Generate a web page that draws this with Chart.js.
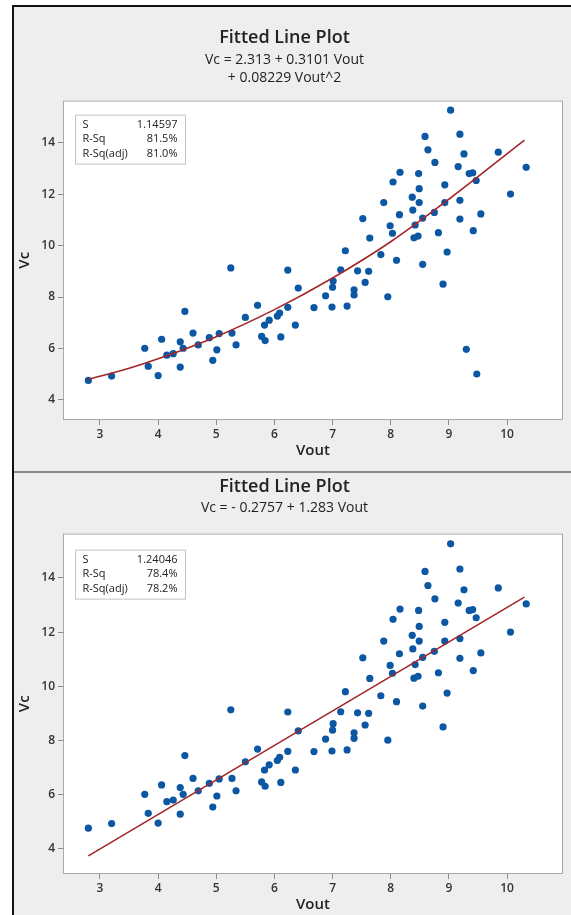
<!DOCTYPE html>
<html>
<head>
<meta charset="utf-8">
<script src="https://cdn.jsdelivr.net/npm/chart.js@4.4.0/dist/chart.umd.min.js"></script>
<style>
  html, body { margin: 0; padding: 0; background: #fff; overflow: hidden; }
  #frame { position: absolute; left: 12px; top: 5px; width: 580px; height: 930px;
           border-left: 2px solid #111; border-top: 2px solid #111; background: #eeeeee; }
  #divider { position: absolute; left: 14px; top: 471px; width: 557px; height: 2px; background: #8a8a8a; }
  canvas { position: absolute; left: 0; }
  #quadChart { top: 0; }
  #linChart { top: 474px; }
</style>
</head>
<body>
<div id="frame"></div>
<div id="divider"></div>
<canvas id="quadChart" width="571" height="461"></canvas>
<canvas id="linChart" width="571" height="441"></canvas>
<script>
// observations shared by both plots
const vout = [
  2.80, 3.20, 3.77, 3.83, 4.00, 4.06, 4.15, 4.26, 4.38, 4.38,
  4.43, 4.46, 4.60, 4.69, 4.88, 4.94, 5.01, 5.05, 5.25, 5.27,
  5.34, 5.50, 5.71, 5.78, 5.83, 5.84, 5.91, 6.05, 6.09, 6.11,
  6.23, 6.23, 6.36, 6.41, 6.68, 6.88, 6.99, 7.01, 7.00, 7.14,
  7.22, 7.25, 7.37, 7.37, 7.43, 7.52, 7.56, 7.62, 7.64, 7.83,
  7.88, 7.95, 7.99, 8.03, 8.04, 8.10, 8.15, 8.16, 8.37, 8.38,
  8.40, 8.42, 8.47, 8.48, 8.49, 8.49, 8.55, 8.55, 8.59, 8.64,
  8.75, 8.76, 8.82, 8.90, 8.93, 8.93, 8.97, 9.03, 9.16, 9.19,
  9.19, 9.19, 9.26, 9.35, 9.41, 9.42, 9.47, 9.55, 9.85, 10.06, 10.33
];
const vc = [
  4.76, 4.93, 6.01, 5.31, 4.95, 6.36, 5.74, 5.80, 6.26, 5.28,
  6.01, 7.44, 6.60, 6.14, 6.42, 5.54, 5.95, 6.58, 9.13, 6.60,
  6.14, 7.21, 7.68, 6.47, 6.91, 6.31, 7.10, 7.26, 7.38, 6.45,
  9.05, 7.60, 6.91, 8.35, 7.59, 8.05, 7.61, 8.62, 8.38, 9.06,
  9.80, 7.65, 8.28, 8.08, 9.02, 11.05, 8.57, 9.00, 10.29, 9.65,
  11.67, 8.01, 10.77, 10.48, 12.47, 9.43, 11.20, 12.85, 11.88, 11.38,
  10.30, 10.80, 10.37, 12.80, 12.21, 11.67, 11.07, 9.27, 14.24, 13.72,
  11.29, 13.23, 10.50, 8.50, 12.36, 11.67, 9.75, 15.26, 13.07, 14.33,
  11.76, 11.03, 13.56, 12.80, 12.83, 10.58, 12.53, 11.23, 13.63, 12.00, 13.04
];
// two low points that only show up in the quadratic plot
const voutExtra = [9.30, 9.48];
const vcExtra = [5.97, 5.01];

// fitted lines
const quadFitX = [2.8, 3.5, 4.0, 5.0, 6.0, 7.0, 8.0, 9.0, 10.3];
const quadFitY = [4.80, 5.23, 5.60, 6.46, 7.51, 8.74, 10.15, 11.8, 14.1];
const linFitX = [2.8, 10.3];
const linFitY = [3.74, 13.29];

const xTicks = [3, 4, 5, 6, 7, 8, 9, 10];
const yTicks = [4, 6, 8, 10, 12, 14];

const statLabels = ['S', 'R-Sq', 'R-Sq(adj)'];
const quadStats = ['1.14597', '81.5%', '81.0%'];
const linStats = ['1.24046', '78.4%', '78.2%'];

Chart.defaults.font.family = "'Open Sans', 'Noto Sans', sans-serif";
Chart.defaults.color = '#333';

function toPoints(xs, ys) {
    return xs.map((x, i) => ({ x: x, y: ys[i] }));
}

// white plot area, gray frame and the S / R-Sq box
const plotFrame = {
    id: 'plotFrame',
    beforeDraw(chart) {
        const a = chart.chartArea, ctx = chart.ctx;
        ctx.save();
        ctx.fillStyle = '#ffffff';
        ctx.fillRect(a.left, a.top, a.right - a.left, a.bottom - a.top);
        ctx.restore();
    },
    afterDraw(chart, args, opts) {
        const a = chart.chartArea, ctx = chart.ctx;
        ctx.save();
        ctx.strokeStyle = '#a8a8a8';
        ctx.lineWidth = 1;
        ctx.strokeRect(a.left + 0.5, a.top + 0.5, a.right - a.left - 1, a.bottom - a.top - 1);

        const bx = a.left + 12.5, by = a.top + opts.boxTop + 0.5, bw = 110, bh = 49;
        ctx.fillStyle = '#ffffff';
        ctx.fillRect(bx, by, bw, bh);
        ctx.strokeStyle = '#c4c4c4';
        ctx.strokeRect(bx, by, bw, bh);
        ctx.fillStyle = '#222';
        ctx.font = "11px 'Open Sans', sans-serif";
        ctx.textBaseline = 'middle';
        statLabels.forEach((lab, i) => {
            const y = by + 9.5 + i * 14.6;
            ctx.textAlign = 'left';
            ctx.fillText(lab, bx + 7, y);
            ctx.textAlign = 'right';
            ctx.fillText(opts.values[i], bx + bw - 8, y);
        });
        ctx.restore();
    }
};

function makeChart(id, cfg) {
    return new Chart(document.getElementById(id), {
        type: 'scatter',
        data: {
            datasets: [
                {
                    data: toPoints(cfg.fitX, cfg.fitY),
                    showLine: true,
                    borderColor: '#a3262a',
                    borderWidth: 1.6,
                    pointRadius: 0,
                    cubicInterpolationMode: 'monotone'
                },
                {
                    data: cfg.points,
                    backgroundColor: '#0b57a3',
                    borderWidth: 0,
                    pointRadius: 3.6
                }
            ]
        },
        options: {
            responsive: false,
            animation: false,
            layout: { padding: { left: 6, right: 8 } },
            plugins: {
                legend: { display: false },
                tooltip: { enabled: false },
                title: {
                    display: true,
                    text: 'Fitted Line Plot',
                    color: '#222',
                    font: { size: 18, weight: '600', lineHeight: 1.2 },
                    padding: cfg.titlePad
                },
                subtitle: {
                    display: true,
                    text: cfg.subtitle,
                    color: '#222',
                    font: { size: 14, weight: 'normal', lineHeight: '18px' },
                    padding: cfg.subPad
                },
                plotFrame: { values: cfg.stats, boxTop: cfg.boxTop }
            },
            scales: {
                x: {
                    type: 'linear',
                    min: 2.364,
                    max: 10.963,
                    afterBuildTicks: s => { s.ticks = xTicks.map(v => ({ value: v })); },
                    afterFit: s => { s.height = 41; },
                    grid: { drawOnChartArea: false, tickLength: 5, color: '#8c8c8c' },
                    border: { display: false },
                    ticks: { padding: 2, color: '#333', font: { size: 12, weight: '600' } },
                    title: {
                        display: true, text: 'Vout', color: '#222',
                        font: { size: 15, weight: '600', lineHeight: 1.2 },
                        padding: { top: 0, bottom: 1 }
                    }
                },
                y: {
                    type: 'linear',
                    min: cfg.yMin,
                    max: cfg.yMax,
                    afterBuildTicks: s => { s.ticks = yTicks.map(v => ({ value: v })); },
                    afterFit: s => { s.width = 57; },
                    grid: { drawOnChartArea: false, tickLength: 5, color: '#8c8c8c' },
                    border: { display: false },
                    ticks: { padding: 3, color: '#333', font: { size: 12, weight: '600' } },
                    title: {
                        display: true, text: 'Vc', color: '#222',
                        font: { size: 15, weight: '600', lineHeight: 1.2 },
                        padding: { top: 10, bottom: 0 }
                    }
                }
            }
        },
        plugins: [plotFrame]
    });
}

makeChart('quadChart', {
    points: toPoints(vout.concat(voutExtra), vc.concat(vcExtra)),
    fitX: quadFitX,
    fitY: quadFitY,
    stats: quadStats,
    subtitle: ['Vc = 2.313 + 0.3101 Vout', '+ 0.08229 Vout^2'],
    titlePad: { top: 27, bottom: 2 },
    subPad: { top: 0, bottom: 14 },
    yMin: 3.222,
    yMax: 15.634,
    boxTop: 14
});

makeChart('linChart', {
    points: toPoints(vout, vc),
    fitX: linFitX,
    fitY: linFitY,
    stats: linStats,
    subtitle: ['Vc = - 0.2757 + 1.283 Vout'],
    titlePad: { top: 2, bottom: 0 },
    subPad: { top: 1, bottom: 17 },
    yMin: 3.07,
    yMax: 15.636,
    boxTop: 16
});
</script>
</body>
</html>
